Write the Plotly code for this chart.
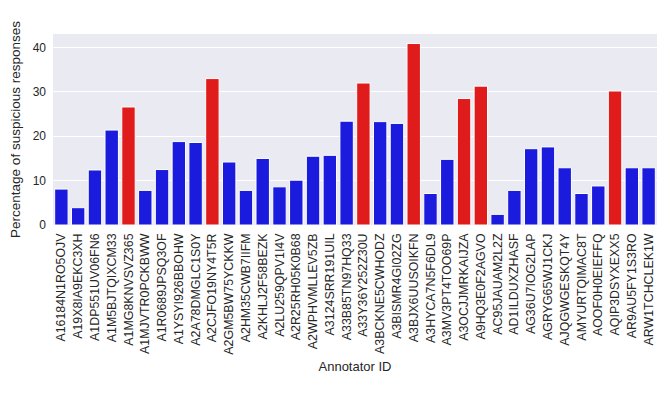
import plotly.graph_objects as go

annotators = [
    "A16184N1RO5OJV", "A19X8IA9EKC3XH", "A1DP551UV06FN6", "A1M5BJTQIXCM33",
    "A1MG8KNVSVZ365", "A1MJVTR0PCKBWW", "A1R0689JPSQ3OF", "A1YSYI926BBOHW",
    "A2A78DMGLC1S0Y", "A2CJFO19NY4T5R", "A2GM5BW75YCKKW", "A2HM35CWB7IIFM",
    "A2KHLJ2F58BEZK", "A2LU259QPV1I4V", "A2R25RH05K0B68", "A2WPHVMLLEV5ZB",
    "A3124SRR191UIL", "A33B85TN97HQ33", "A33Y36Y252Z30U", "A3BCKNE5CWHODZ",
    "A3BISMR4GI02ZG", "A3BJX6UUSOIKFN", "A3HYCA7N5F6DL9", "A3MV3PT4TOO69P",
    "A3OCJJMRKAIJZA", "A9HQ3E0F2AGVO", "AC95JAUAM2L2Z", "AD1ILDUXZHASF",
    "AG36U7IOG2LAP", "AGRYG65WJ1CKJ", "AJQGWGESKQT4Y", "AMYURTQIMAC8T",
    "AOOF0H0EIEFFQ", "AQIP3DSYXEXX5", "AR9AU5FY1S3RO", "ARW1TCHCLEK1W",
]
percentages = [
    8.1, 3.9, 12.4, 21.4, 26.6, 7.8, 12.5, 18.8, 18.6, 33.0,
    14.2, 7.8, 15.0, 8.6, 10.1, 15.5, 15.7, 23.4, 32.0, 23.3,
    22.9, 40.9, 7.1, 14.8, 28.5, 31.3, 2.4, 7.8, 17.2, 17.6,
    12.9, 7.1, 8.8, 30.2, 12.9, 12.9,
]
flagged = [
    "A1MG8KNVSVZ365", "A2CJFO19NY4T5R", "A33Y36Y252Z30U", "A3BJX6UUSOIKFN",
    "A3OCJJMRKAIJZA", "A9HQ3E0F2AGVO", "AQIP3DSYXEXX5",
]

RED = "#E01B1B"
BLUE = "#1B1BDE"
colors = [RED if a in flagged else BLUE for a in annotators]

fig = go.Figure(go.Bar(
    x=annotators, y=percentages,
    marker=dict(color=colors, line=dict(color="white", width=1)),
    width=0.8,
))

font_family = "Liberation Sans, Arial, sans-serif"
fig.update_layout(
    width=654, height=377,
    margin=dict(l=45, r=5, t=26, b=160),
    paper_bgcolor="white",
    plot_bgcolor="#EAEAF2",
    showlegend=False,
    font=dict(family=font_family, color="#262626", size=12),
    bargap=0.2,
)
fig.update_xaxes(
    title=dict(text="Annotator ID", font=dict(size=13), standoff=8),
    tickangle=-90, tickfont=dict(size=12.4),
    showgrid=False, zeroline=False, showline=False,
    range=[-0.5, len(annotators) - 0.5],
    ticks="", ticklen=0, automargin=False, ticklabelstandoff=5,
)
fig.update_yaxes(
    title=dict(text="Percentage of suspicious responses", font=dict(size=13.5), standoff=8),
    range=[0, 43.05], tickvals=[0, 10, 20, 30, 40],
    gridcolor="white", gridwidth=1.2, zeroline=False, showline=False,
    tickfont=dict(size=12), automargin=False, ticklabelstandoff=6,
)
fig.write_html("out.html")
